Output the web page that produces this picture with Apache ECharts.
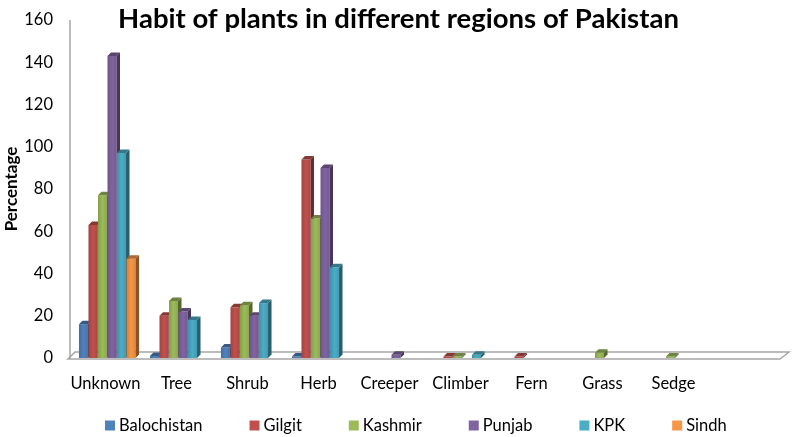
<!DOCTYPE html>
<html><head><meta charset="utf-8">
<script src="https://cdn.jsdelivr.net/npm/echarts@6/dist/echarts.min.js"></script>
<style>html,body{margin:0;padding:0;background:#fff}#c{width:797px;height:437px}</style>
</head><body><div id="c"></div>
<script>
const categories = ['Unknown','Tree','Shrub','Herb','Creeper','Climber','Fern','Grass','Sedge',''];
const balochistan = [16, 1, 5, 0.5, null, null, null, null, null, null];
const gilgit      = [63, 20, 24, 94, null, 0.5, 0.5, null, null, null];
const kashmir     = [77, 27, 25, 66, null, 0.5, null, 2.5, 0.5, null];
const punjab      = [143, 22, 20, 90, 1.5, null, null, null, null, null];
const kpk         = [97, 18, 26, 43, null, 1.5, null, null, null, null];
const sindh       = [47, null, null, null, null, null, null, null, null, null];
const seriesNames = ['Balochistan','Gilgit','Kashmir','Punjab','KPK','Sindh'];
const seriesData = [balochistan, gilgit, kashmir, punjab, kpk, sindh];
const colors = ['#4F81BD','#C0504D','#9BBB59','#8064A2','#4BACC6','#F79646'];
const yTicks = [0,20,40,60,80,100,120,140,160];

function shade(hex, f){
  const n=parseInt(hex.slice(1),16);
  const r=Math.round(((n>>16)&255)*f), g=Math.round(((n>>8)&255)*f), b=Math.round((n&255)*f);
  return 'rgb('+r+','+g+','+b+')';
}
const FONT = 'Lato';
const D = 3.5;

function makeRender(idx){
  const c = colors[idx];
  return function(params, api){
    const v = api.value(1);
    if (v == null || isNaN(v)) return null;
    const cat = api.value(0);
    const base = api.coord([cat, 0]);
    const top = api.coord([cat, v]);
    const band = api.size([1,0])[0];
    const slot = band*0.134;
    const x0 = base[0] - 3*slot + idx*slot + 2;
    const w = slot - 0.5;
    const yb = base[1], yt = Math.min(top[1], yb-1.5);
    return {type:'group', children:[
      {type:'rect', shape:{x:x0, y:yt, width:w, height:yb-yt},
        style:{fill:new echarts.graphic.LinearGradient(0,0,1,0,[{offset:0,color:shade(c,0.85)},{offset:0.5,color:c},{offset:1,color:shade(c,0.9)}])}},
      {type:'polygon', shape:{points:[[x0+w,yt],[x0+w+D,yt-D],[x0+w+D,yb-D],[x0+w,yb]]}, style:{fill:shade(c,0.55)}},
      {type:'polygon', shape:{points:[[x0,yt],[x0+D,yt-D],[x0+w+D,yt-D],[x0+w,yt]]}, style:{fill:shade(c,0.7)}}
    ]};
  };
}

const series = seriesData.map((arr, i) => ({
  name: seriesNames[i], type:'custom', renderItem: makeRender(i),
  itemStyle:{color:colors[i]},
  encode:{x:0,y:1},
  data: arr.map((v,j)=>[j, v])
}));
series.unshift({
  name:'floor', type:'custom', silent:true, z:1,
  data:[[0,0]],
  renderItem: function(params, api){
    const cs = params.coordSys;
    const yb = cs.y + cs.height + 1, d = 7;
    return {type:'group', children:[
      {type:'polygon', shape:{points:[[cs.x-2,yb],[cs.x+cs.width,yb],[cs.x+cs.width+d+2,yb-d],[cs.x+d-2,yb-d]]},
        style:{fill:'#fff', stroke:'#A6A6A6', lineWidth:1.5}},
      {type:'line', shape:{x1:cs.x, y1:cs.y, x2:cs.x, y2:yb}, style:{stroke:'#A6A6A6', lineWidth:1.5}}
    ]};
  }
});

const chart = echarts.init(document.getElementById('c'), null, {renderer:'canvas'});
chart.setOption({
  animation:false,
  color: colors,
  title:{text:'Habit of plants in different regions of Pakistan', left:'center', top:0,
    textStyle:{fontFamily:FONT, fontWeight:'bold', fontSize:27.5, color:'#000'}},
  legend:{data:seriesNames, left:100, top:412, icon:'rect', itemWidth:10, itemHeight:10, itemGap:47,
    textStyle:{fontFamily:FONT, fontSize:16.5, color:'#000', padding:[0,0,0,-1]}},
  grid:{left:70, right:17, top:20, bottom:79, containLabel:false, outerBoundsMode:'none'},
  xAxis:{type:'category', data:categories, axisLine:{show:false}, axisTick:{show:false},
    axisLabel:{fontFamily:FONT, fontSize:16.5, color:'#000', margin:17, interval:0}},
  yAxis:{type:'value', min:0, max:160, interval:20,
    name:'Percentage', nameLocation:'middle', nameGap:50, nameRotate:90, nameMoveOverlap:false,
    nameTextStyle:{fontFamily:FONT, fontWeight:'bold', fontSize:17, color:'#000'},
    axisLine:{show:false}, axisTick:{show:false}, splitLine:{show:false},
    axisLabel:{fontFamily:FONT, fontSize:16.5, color:'#000', margin:17}},
  series: series
});
</script></body></html>
